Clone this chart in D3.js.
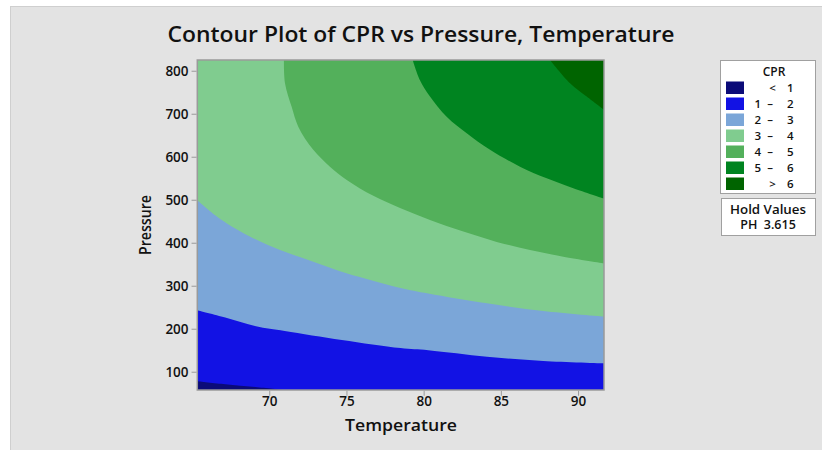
<!DOCTYPE html>
<html>
<head>
<meta charset="utf-8">
<script src="https://cdn.jsdelivr.net/npm/d3@7"></script>
<style>
  body { margin: 0; background: #ffffff; }
  text { font-family: "Open Sans", "Noto Sans", sans-serif; fill: #111; }
</style>
</head>
<body>
<script>
//contour band labels and colours, lowest first
var bandLabels = [["", "<", "1"], ["1", "–", "2"], ["2", "–", "3"], ["3", "–", "4"],
                  ["4", "–", "5"], ["5", "–", "6"], ["", ">", "6"]];
var bandColors = ["#0b0b78", "#1212e4", "#7ba6d8", "#80cc8f", "#53b05b", "#008420", "#006400"];

//contour lines, [Temperature, Pressure]
var cpr1 = [[65.34, 78], [67.15, 71], [69.1, 64.5], [70.9, 57.5]];
var cpr2 = [[65.34, 243], [67.15, 226], [69.14, 206], [71.0, 195], [74.7, 174], [78.5, 155],
            [80.3, 150], [84.1, 135], [87.75, 125], [91.68, 119.5]];
var cpr3 = [[65.34, 499], [66.5, 464], [67.26, 445], [68.77, 414], [70.7, 383], [72.85, 356],
            [75.0, 329], [76.6, 313], [78.5, 295], [80.3, 282], [84.1, 259], [87.75, 241],
            [91.68, 228]];
var cpr4 = [[70.95, 825], [71.02, 771], [71.45, 716], [71.88, 670], [72.85, 616], [73.93, 577],
            [75.02, 546], [76.74, 509], [78.47, 481], [80.41, 453], [82.57, 426], [84.73, 402],
            [86.89, 383], [89.04, 367.5], [91.68, 352]];
var cpr5 = [[79.29, 825], [79.76, 778], [80.41, 740], [81.49, 693], [82.79, 654.5], [84.3, 616],
            [86.24, 577], [87.97, 550], [89.69, 527], [91.68, 503]];
var cpr6 = [[88.18, 825], [89.48, 771], [90.56, 740], [91.68, 709]];
var contourLines = [cpr1, cpr2, cpr3, cpr4, cpr5, cpr6];

//axis ticks
var tempTicks = [70, 75, 80, 85, 90];
var pressTicks = [100, 200, 300, 400, 500, 600, 700, 800];
var tempRange = [65.34, 91.68];
var pressRange = [57.5, 825];

var width = 822,
    height = 450;

var svg = d3.select("body")
    .append("svg")
    .attr("width", width)
    .attr("height", height);

//gray panel
svg.append("rect")
    .attr("x", 10.5).attr("y", 6.5)
    .attr("width", 812).attr("height", 444)
    .attr("fill", "#e3e3e3")
    .attr("stroke", "#cfcfcf");

var plot = {left: 197.3, top: 60, right: 604, bottom: 390};

var x = d3.scaleLinear().domain(tempRange).range([plot.left, plot.right]);
var y = d3.scaleLinear().domain(pressRange).range([plot.bottom, plot.top]);

svg.append("clipPath").attr("id", "clip")
    .append("rect")
    .attr("x", plot.left).attr("y", plot.top)
    .attr("width", plot.right - plot.left).attr("height", plot.bottom - plot.top);

var g = svg.append("g").attr("clip-path", "url(#clip)");

//highest band fills the plot, each lower band is painted over it
g.append("rect")
    .attr("x", plot.left).attr("y", plot.top)
    .attr("width", plot.right - plot.left).attr("height", plot.bottom - plot.top)
    .attr("fill", bandColors[6]);

var line = d3.line()
    .x(function(d){ return x(d[0]); })
    .y(function(d){ return y(d[1]); })
    .curve(d3.curveCatmullRom);

//region below-left of each contour line
for (var i = contourLines.length - 1; i >= 0; i--) {
    var corners = [[tempRange[1], pressRange[0]], [tempRange[0], pressRange[0]], [tempRange[0], pressRange[1]]];
    var d = line(contourLines[i]) + corners.map(function(c){
        return "L" + x(c[0]) + "," + y(c[1]);
    }).join("") + "Z";
    g.append("path")
        .attr("d", d)
        .attr("fill", bandColors[i]);
}

//plot frame
svg.append("rect")
    .attr("x", plot.left).attr("y", plot.top)
    .attr("width", plot.right - plot.left).attr("height", plot.bottom - plot.top)
    .attr("fill", "none")
    .attr("stroke", "#9a9a9a")
    .attr("stroke-width", 1.5);

//axes
var xAxis = svg.append("g")
    .attr("transform", "translate(0," + (plot.bottom + 0.75) + ")")
    .call(d3.axisBottom(x).tickValues(tempTicks).tickSize(5).tickPadding(1));
var yAxis = svg.append("g")
    .attr("transform", "translate(" + (plot.left - 0.75) + ",0)")
    .call(d3.axisLeft(y).tickValues(pressTicks).tickSize(5).tickPadding(3));

[xAxis, yAxis].forEach(function(a){
    a.select(".domain").remove();
    a.selectAll(".tick line").attr("stroke", "#9a9a9a");
    a.selectAll(".tick text")
        .attr("fill", "#111")
        .style("font-family", "'Open Sans', sans-serif")
        .style("font-size", "13.5px")
        .style("font-weight", 600);
});

//titles
svg.append("text")
    .attr("x", 421).attr("y", 42)
    .attr("text-anchor", "middle")
    .attr("textLength", 507)
    .attr("lengthAdjust", "spacingAndGlyphs")
    .style("font-size", "21.5px")
    .style("font-weight", 600)
    .text("Contour Plot of CPR vs Pressure, Temperature");

svg.append("text")
    .attr("x", 401).attr("y", 431)
    .attr("text-anchor", "middle")
    .attr("textLength", 112)
    .attr("lengthAdjust", "spacingAndGlyphs")
    .style("font-size", "16.5px")
    .style("font-weight", 600)
    .text("Temperature");

svg.append("text")
    .attr("transform", "translate(151,225) rotate(-90)")
    .attr("text-anchor", "middle")
    .attr("textLength", 60)
    .attr("lengthAdjust", "spacingAndGlyphs")
    .style("font-size", "17px")
    .style("font-weight", 600)
    .text("Pressure");

//legend
var legend = svg.append("g");
legend.append("rect")
    .attr("x", 720.5).attr("y", 60.5)
    .attr("width", 95).attr("height", 133)
    .attr("fill", "#ffffff")
    .attr("stroke", "#a0a0a0");
legend.append("text")
    .attr("x", 774).attr("y", 75.5)
    .attr("text-anchor", "middle")
    .style("font-size", "12px")
    .style("font-weight", 600)
    .text("CPR");

var item = legend.selectAll(".item")
    .data(bandLabels)
    .enter()
    .append("g")
    .attr("class", "item")
    .attr("transform", function(d, i){ return "translate(0," + (81.5 + i * 16) + ")"; });
item.append("rect")
    .attr("x", 726).attr("width", 18).attr("height", 12.5)
    .attr("fill", function(d, i){ return bandColors[i]; });
item.append("text")
    .attr("y", 10.5)
    .style("font-size", "11.5px").style("font-weight", 600)
    .each(function(d){
        var t = d3.select(this);
        t.append("tspan").attr("x", 761).attr("text-anchor", "end").text(d[0]);
        t.append("tspan").attr("x", d[0] ? 770 : 772.5).attr("text-anchor", "middle").text(d[1]);
        t.append("tspan").attr("x", 787).attr("text-anchor", "start").text(d[2]);
    });

legend.append("rect")
    .attr("x", 721.5).attr("y", 198.5)
    .attr("width", 94).attr("height", 37)
    .attr("fill", "#ffffff")
    .attr("stroke", "#a0a0a0");
legend.append("text")
    .attr("x", 768).attr("y", 213.5)
    .attr("text-anchor", "middle")
    .attr("textLength", 76)
    .attr("lengthAdjust", "spacingAndGlyphs")
    .style("font-size", "12.5px").style("font-weight", 600)
    .text("Hold Values");
legend.append("text")
    .attr("x", 768).attr("y", 229)
    .attr("text-anchor", "middle")
    .style("font-size", "12.5px").style("font-weight", 600)
    .text("PH\u00a0 3.615");
</script>
</body>
</html>
